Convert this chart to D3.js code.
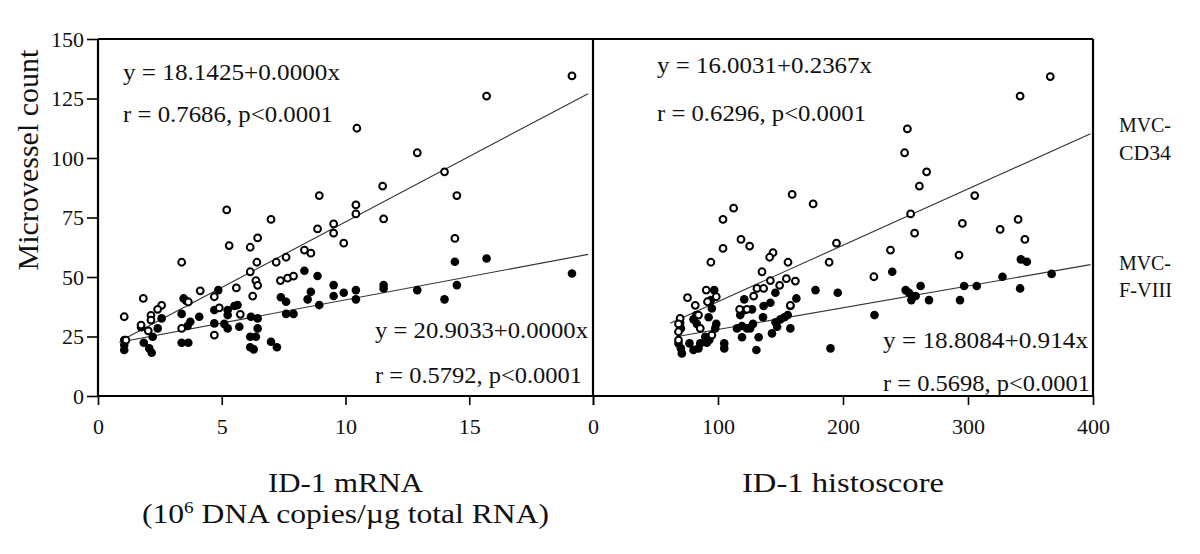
<!DOCTYPE html>
<html><head><meta charset="utf-8">
<script src="https://cdn.jsdelivr.net/npm/d3@7"></script>
<style>html,body{margin:0;padding:0;background:#fff;}svg{display:block;}</style>
</head><body>
<svg id="chart" width="1200" height="554"></svg>
<script>
// ---------- DATA ----------
const yTicks = [0, 25, 50, 75, 100, 125, 150];
const leftXTicks = [0, 5, 10, 15, 20];
const leftXTickLabels = ["0", "5", "10", "15", ""];
const rightXTicks = [0, 100, 200, 300, 400];
const rightXTickLabels = ["0", "100", "200", "300", "400"];

// Left panel: ID-1 mRNA vs MVC-CD34 (open circles)
const mrnaCD34 = [
  [10.46,112.5],[15.7,126],[19.15,134.5],[12.9,102.2],[11.5,88.2],[14.0,94.2],[14.5,84.2],[10.42,80.3],
  [8.94,84.2],[5.2,78.2],[6.99,74.2],[5.3,63.2],[6.15,62.5],[6.45,66.4],[8.87,70.2],[9.52,72.3],
  [9.52,68.4],[9.93,64.2],[3.38,56.2],[6.42,56.2],[7.2,56.2],[7.6,58.3],[8.34,61.3],[8.6,60],
  [6.15,52.2],[6.38,48.5],[6.45,46.5],[6.25,42],[7.37,48.5],[7.66,49.5],[7.9,50.4],[5.59,45.4],
  [4.13,44.2],[4.7,41.7],[3.65,39.5],[1.83,41],[1.06,33.3],[2.57,38.1],[2.41,36.4],[2.14,33.9],
  [2.14,31.9],[1.74,29.8],[2.03,27.4],[3.38,28.4],[4.9,37],[5.75,34.3],[4.7,25.6],[1.13,23.5],
  [10.42,76.5],[11.54,74.4],[14.42,66.2]
];
// Left panel: ID-1 mRNA vs MVC-F-VIII (filled circles)
const mrnaFVIII = [
  [14.42,56.4],[15.7,57.8],[19.15,51.5],[14.5,46.6],[14.0,40.6],[12.9,44.5],[11.54,46.6],[11.54,45.2],
  [10.42,44.5],[10.42,40.6],[9.93,43.4],[8.34,52.6],[8.87,50.4],[8.6,43.8],[8.47,40.6],[9.52,46.6],
  [9.52,42],[8.94,38.2],[7.39,41.5],[7.6,39.6],[7.6,34.5],[7.9,34.5],[6.99,22.8],[7.23,20.5],
  [6.18,33.3],[6.45,32.6],[6.45,28.4],[6.38,24.9],[6.15,24.9],[6.15,20.5],[6.29,19.6],[4.86,44.5],
  [5.64,38.2],[5.51,37.8],[5.24,36.1],[5.24,34],[4.7,36.1],[5.1,30.3],[5.24,28.4],[5.71,29.1],
  [4.7,30.5],[4.09,33.3],[3.46,41],[3.56,40],[3.38,34.5],[3.73,31.2],[3.62,29.4],[3.38,22.4],
  [3.65,22.4],[2.57,32.6],[2.41,28.4],[2.21,24.9],[1.74,28.9],[1.85,22.4],[2.07,20],[2.17,18.2],
  [1.06,23.5],[1.06,21.4],[1.06,19.3]
];
// Right panel: ID-1 histoscore vs MVC-CD34 (open circles)
const histoCD34 = [
  [159.3,84.7],[176.1,80.7],[112.5,78.9],[365.8,134.2],[341.7,126],[251.5,112.2],[249.3,102.2],[266.9,94.2],
  [261.1,88.2],[305.4,84.2],[254.1,76.5],[257.3,68.4],[238,61.3],[224.7,50.1],[295.5,72.5],[292.8,59.2],
  [325.7,70],[340.1,74.2],[345.5,65.8],[104,74.2],[104,62],[118.4,65.8],[125.3,63],[94.3,56.2],
  [194.8,64.2],[188.9,56.2],[144,60.2],[141.3,58.3],[156,56.2],[135.2,52.2],[141.9,48.5],[154.7,49.3],
  [161.9,48.3],[149.3,46.5],[131.2,45.2],[136.5,45.2],[128.5,42],[75.6,41.3],[90.6,44.5],[98.6,41.7],
  [91.6,39.6],[81.8,38.1],[84.4,34],[69.7,32.6],[68.4,30.3],[68.4,27],[85.8,28.4],[95.1,25.6],
  [117.3,36.4],[123.2,36.4],[157.9,38.1],[68.4,23.5]
];
// Right panel: ID-1 histoscore vs MVC-F-VIII (filled circles)
const histoFVIII = [
  [239.4,52.2],[225.2,34],[250.1,44.5],[252.8,43.4],[255.5,42],[258.1,42],[254.7,40.3],[262.1,46.2],
  [268.8,40.3],[293.6,40.3],[296.9,46.2],[307,46.2],[327.6,50.1],[341.7,45.2],[342.3,57.4],[347.1,56.4],
  [366.9,51.3],[97,44.5],[94.3,40.3],[95.1,36.8],[92.5,33.1],[98.6,30.3],[97.8,28.4],[82.6,34],
  [80.4,32.2],[83.1,30.3],[69.7,30.8],[70.3,28.4],[68.4,22.1],[70.3,20],[71.1,17.9],[77.2,22.1],
  [80.4,19.3],[84.4,20],[85.8,22.1],[89.8,24.9],[91.1,22.4],[93,23.5],[105,22.1],[105,20],
  [119.2,24.7],[130.7,19.3],[132.5,24.7],[115.2,28.4],[119.2,29.4],[123.2,28.4],[128,30.3],[125.7,28.4],
  [136,33.1],[143.2,26.3],[147.3,29.1],[149.9,32.2],[153.1,33.1],[155.8,34],[157.9,28.4],[146,31],
  [121,40.6],[117.8,34],[121,36],[127.2,36.4],[136.5,37.8],[141.9,39.2],[145.9,43.4],[157.9,37.8],
  [162.7,41],[178,44.5],[195.8,43.4],[190,20]
];

// Regression lines: [intercept, slope, xStart, xEnd]
const fitMrnaCD34 = [18.1425, 5.5, 1.05, 19.8];
const fitMrnaFVIII = [20.9033, 1.95, 0.86, 19.8];
const fitHistoCD34 = [16.0031, 0.2367, 61.7, 398];
const fitHistoFVIII = [18.8084, 0.0914, 69.7, 398];

const eqMrnaCD34 = ["y = 18.1425+0.0000x", "r = 0.7686, p<0.0001"];
const eqMrnaFVIII = ["y = 20.9033+0.0000x", "r = 0.5792, p<0.0001"];
const eqHistoCD34 = ["y = 16.0031+0.2367x", "r = 0.6296, p<0.0001"];
const eqHistoFVIII = ["y = 18.8084+0.914x", "r = 0.5698, p<0.0001"];

// ---------- DRAW ----------
const svg = d3.select("#chart");
const FONT = "'Liberation Serif','Times New Roman',serif";
const yTop = 39, yBottom = 396;
const y = d3.scaleLinear().domain([0, 150]).range([yBottom, yTop]);
const xL = d3.scaleLinear().domain([0, 20]).range([98, 593]);
const xR = d3.scaleLinear().domain([0, 400]).range([593, 1093]);

// y axis
const yAxis = d3.axisLeft(y).tickValues(yTicks).tickSize(11).tickPadding(3);
const gy = svg.append("g").attr("transform", "translate(98,0)").call(yAxis);
gy.select(".domain").remove();
gy.selectAll(".tick line").attr("stroke", "#000").attr("stroke-width", 1.6);
gy.selectAll(".tick text").attr("font-family", FONT).attr("font-size", 22).attr("fill", "#111");

// x axes
function xAxisDraw(scale, vals, labels) {
  const ax = d3.axisBottom(scale).tickValues(vals).tickSize(9).tickPadding(13)
    .tickFormat((d, i) => labels[i]);
  const g = svg.append("g").attr("transform", `translate(0,${yBottom})`).call(ax);
  g.select(".domain").remove();
  g.selectAll(".tick line").attr("stroke", "#000").attr("stroke-width", 1.6);
  g.selectAll(".tick text").attr("font-family", FONT).attr("font-size", 22).attr("fill", "#111");
}
xAxisDraw(xL, leftXTicks, leftXTickLabels);
xAxisDraw(xR, rightXTicks, rightXTickLabels);

// frame
const frame = svg.append("g").attr("stroke", "#000").attr("stroke-width", 2.2).attr("fill", "none");
frame.append("line").attr("x1", 98).attr("x2", 1093).attr("y1", yTop).attr("y2", yTop);
frame.append("line").attr("x1", 98).attr("x2", 1093).attr("y1", yBottom).attr("y2", yBottom);
frame.append("line").attr("x1", 98).attr("x2", 98).attr("y1", yTop).attr("y2", yBottom);
frame.append("line").attr("x1", 593).attr("x2", 593).attr("y1", yTop).attr("y2", yBottom);
frame.append("line").attr("x1", 1093).attr("x2", 1093).attr("y1", yTop).attr("y2", yBottom);

// regression lines
function fitLine(scale, f) {
  const [a, b, x0, x1] = f;
  svg.append("line")
    .attr("x1", scale(x0)).attr("y1", y(a + b * x0))
    .attr("x2", scale(x1)).attr("y2", y(a + b * x1))
    .attr("stroke", "#333").attr("stroke-width", 1.1);
}
fitLine(xL, fitMrnaCD34);
fitLine(xL, fitMrnaFVIII);
fitLine(xR, fitHistoCD34);
fitLine(xR, fitHistoFVIII);

// points
function drawFilled(scale, data) {
  svg.append("g").selectAll("circle").data(data).join("circle")
    .attr("cx", d => scale(d[0])).attr("cy", d => y(d[1])).attr("r", 4.3)
    .attr("fill", "#000");
}
function drawOpen(scale, data) {
  svg.append("g").selectAll("circle").data(data).join("circle")
    .attr("cx", d => scale(d[0])).attr("cy", d => y(d[1])).attr("r", 3.4)
    .attr("fill", "#fff").attr("stroke", "#000").attr("stroke-width", 2);
}
drawFilled(xL, mrnaFVIII);
drawOpen(xL, mrnaCD34);
drawFilled(xR, histoFVIII);
drawOpen(xR, histoCD34);

// text helper
function txt(x, yy, s, size, anchor, len) {
  const t = svg.append("text").attr("x", x).attr("y", yy).attr("font-family", FONT)
    .attr("font-size", size).attr("fill", "#111").attr("text-anchor", anchor || "start").text(s);
  if (len) t.attr("textLength", len).attr("lengthAdjust", "spacingAndGlyphs");
  return t;
}
txt(123, 80, eqMrnaCD34[0], 23, "start", 217);
txt(123, 122, eqMrnaCD34[1], 23, "start", 210);
txt(375, 338, eqMrnaFVIII[0], 23, "start", 213);
txt(375, 383, eqMrnaFVIII[1], 23, "start", 207);
txt(657, 73, eqHistoCD34[0], 23, "start", 215);
txt(657, 121, eqHistoCD34[1], 23, "start", 209);
txt(883, 348, eqHistoFVIII[0], 23, "start", 205);
txt(883, 391, eqHistoFVIII[1], 23, "start", 207);

// series labels on the right
txt(1119, 132, "MVC-", 22, "start", 52);
txt(1119, 160, "CD34", 22, "start", 52);
txt(1119, 270, "MVC-", 22, "start", 52);
txt(1119, 297, "F-VIII", 22, "start", 53);

// axis titles
svg.append("text").attr("transform", "translate(38,160) rotate(-90)")
  .attr("text-anchor", "middle").attr("font-family", FONT).attr("font-size", 30)
  .attr("fill", "#111").text("Microvessel count");
txt(345.5, 492, "ID-1 mRNA", 28, "middle", 155);
const t2 = txt(345.5, 523, "", 28, "middle");
t2.append("tspan").text("(10");
t2.append("tspan").attr("font-size", 17).attr("dy", -10).text("6");
t2.append("tspan").attr("dy", 10).text(" DNA copies/µg total RNA)");
t2.attr("textLength", 407).attr("lengthAdjust", "spacingAndGlyphs");
txt(843, 492, "ID-1 histoscore", 28, "middle", 202);
</script>
</body></html>
